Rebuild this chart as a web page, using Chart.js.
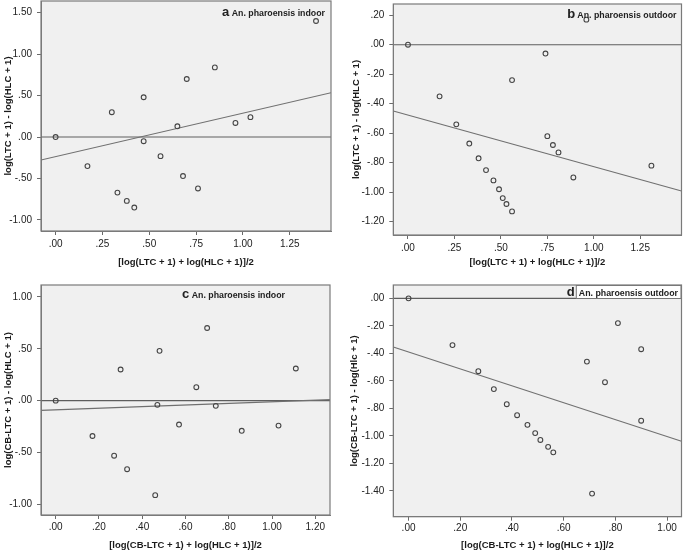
<!DOCTYPE html>
<html>
<head>
<meta charset="utf-8">
<script src="https://cdn.jsdelivr.net/npm/chart.js@4.4.1/dist/chart.umd.min.js"></script>
<style>
  html, body { margin: 0; padding: 0; background: #ffffff; }
  #wrap { position: relative; width: 685px; height: 551px; overflow: hidden; }
  canvas { position: absolute; }
</style>
</head>
<body>
<div id="wrap">
  <canvas id="cc" width="342" height="301" style="left:0px;top:250px;"></canvas>
  <canvas id="cd" width="343" height="301" style="left:342px;top:250px;"></canvas>
  <canvas id="ca" width="342" height="290" style="left:0px;top:-20px;"></canvas>
  <canvas id="cb" width="343" height="290" style="left:342px;top:-20px;"></canvas>
</div>
<script>
// ---------- DATA ----------
// Panel a: An. pharoensis indoor (LTC vs HLC)
const aMean = [0, 0.17, 0.30, 0.33, 0.38, 0.42, 0.47, 0.47, 0.56, 0.65, 0.70, 0.68, 0.76, 0.85, 0.96, 1.04, 1.39];
const aDiff = [0, -0.35, 0.30, -0.67, -0.77, -0.85, 0.48, -0.05, -0.23, 0.13, 0.70, -0.47, -0.62, 0.84, 0.17, 0.24, 1.40];
const aFitX = [-0.078, 1.47];
const aFitY = [-0.277, 0.534];

// Panel b: An. pharoensis outdoor (LTC vs HLC)
const bMean = [0, 0.17, 0.26, 0.33, 0.38, 0.42, 0.46, 0.49, 0.51, 0.53, 0.56, 0.56, 0.74, 0.75, 0.78, 0.81, 0.89, 0.96, 1.31];
const bDiff = [0, -0.35, -0.54, -0.67, -0.77, -0.85, -0.92, -0.98, -1.04, -1.08, -1.13, -0.24, -0.06, -0.62, -0.68, -0.73, -0.90, 0.17, -0.82];
const bFitX = [-0.079, 1.472];
const bFitY = [-0.449, -0.992];

// Panel c: An. pharoensis indoor (CB-LTC vs HLC)
const cMean = [0, 0.17, 0.27, 0.30, 0.33, 0.46, 0.48, 0.47, 0.57, 0.65, 0.70, 0.74, 0.86, 1.03, 1.11];
const cDiff = [0, -0.34, -0.53, 0.30, -0.66, -0.91, 0.48, -0.04, -0.23, 0.13, 0.70, -0.05, -0.29, -0.24, 0.31];
const cFitX = [-0.068, 1.268];
const cFitY = [-0.093, 0.010];

// Panel d: An. pharoensis outdoor (CB-LTC vs HLC)
const dMean = [0, 0.17, 0.27, 0.33, 0.38, 0.42, 0.46, 0.49, 0.51, 0.54, 0.56, 0.69, 0.71, 0.76, 0.81, 0.90, 0.90];
const dDiff = [0, -0.34, -0.53, -0.66, -0.77, -0.85, -0.92, -0.98, -1.03, -1.08, -1.12, -0.46, -1.42, -0.61, -0.18, -0.37, -0.89];
const dFitX = [-0.059, 1.056];
const dFitY = [-0.354, -1.04];

// Tick values
const xTicksAB = [0, 0.25, 0.5, 0.75, 1.0, 1.25];
const xTicksC = [0, 0.2, 0.4, 0.6, 0.8, 1.0, 1.2];
const xTicksD = [0, 0.2, 0.4, 0.6, 0.8, 1.0];
const yTicksA = [-1.0, -0.5, 0, 0.5, 1.0, 1.5];
const yTicksB = [-1.2, -1.0, -0.8, -0.6, -0.4, -0.2, 0, 0.2];
const yTicksC = [-1.0, -0.5, 0, 0.5, 1.0];
const yTicksD = [-1.4, -1.2, -1.0, -0.8, -0.6, -0.4, -0.2, 0];

// Axis titles and panel labels
const xTitleAB = '[log(LTC + 1) + log(HLC + 1)]/2';
const xTitleCD = '[log(CB-LTC + 1) + log(HLC + 1)]/2';
const yTitleAB = 'log(LTC + 1) - log(HLC + 1)';
const yTitleC = 'log(CB-LTC + 1) - log(HLC + 1)';
const yTitleD = 'log(CB-LTC + 1) - log(Hlc + 1)';

// ---------- RENDERING ----------
const FONT = '"Liberation Sans", Arial, sans-serif';
const fmt = v => {
  let s = Number(v).toFixed(2);
  s = s.replace(/^(-?)0\./, '$1.');
  return s;
};

const panelPlugin = {
  id: 'panelDecor',
  beforeDraw(chart) {
    const { ctx, chartArea: a } = chart;
    ctx.save();
    ctx.fillStyle = '#f0f0f0';
    ctx.fillRect(a.left, a.top, a.right - a.left, a.bottom - a.top);
    ctx.restore();
  },
  afterDraw(chart) {
    const { ctx, chartArea: a } = chart;
    const o = chart.options.plugins.panelDecor;
    ctx.save();
    ctx.textBaseline = 'alphabetic';
    ctx.font = 'bold 8.8px ' + FONT;
    const tw = ctx.measureText(o.text).width;
    const tx = a.right - o.rightGap - tw;
    const ty = a.top + o.baseOff;
    if (o.box) {
      ctx.fillStyle = '#ffffff';
      ctx.fillRect(tx - 3, a.top, a.right - (tx - 3), o.boxH);
      ctx.strokeStyle = '#777777';
      ctx.lineWidth = 1;
      ctx.strokeRect(tx - 3 + 0.5, a.top + 0.5, a.right - (tx - 3) - 1, o.boxH);
    }
    ctx.fillStyle = '#222222';
    ctx.textAlign = 'left';
    ctx.fillText(o.text, tx, ty);
    ctx.font = 'bold 13px ' + FONT;
    ctx.textAlign = 'right';
    ctx.fillText(o.letter, tx - o.letterGap, ty);
    ctx.strokeStyle = '#7a7a7a';
    ctx.lineWidth = 1.2;
    ctx.strokeRect(a.left, a.top, a.right - a.left, a.bottom - a.top);
    ctx.restore();
  }
};

function makePanel(id, cfg) {
  const pts = cfg.xs.map((x, i) => ({ x: x, y: cfg.ys[i] }));
  const fit = cfg.fitX.map((x, i) => ({ x: x, y: cfg.fitY[i] }));
  const zero = [{ x: cfg.xRange[0], y: 0 }, { x: cfg.xRange[1], y: 0 }];
  new Chart(document.getElementById(id), {
    type: 'scatter',
    data: {
      datasets: [
        { type: 'line', data: zero, borderColor: '#5e5e5e', borderWidth: 1.1, pointRadius: 0, fill: false, order: 3 },
        { type: 'line', data: fit, borderColor: '#707070', borderWidth: 1.1, pointRadius: 0, fill: false, order: 2 },
        { type: 'scatter', data: pts, pointRadius: 2.4, pointBorderWidth: 1.1, borderColor: '#454545', backgroundColor: 'rgba(0,0,0,0)', pointHoverRadius: 2.4, order: 1 }
      ]
    },
    options: {
      responsive: false,
      animation: false,
      devicePixelRatio: 1,
      layout: { padding: cfg.pad },
      plugins: {
        legend: { display: false },
        tooltip: { enabled: false },
        panelDecor: cfg.decor
      },
      scales: {
        x: {
          type: 'linear',
          min: cfg.xRange[0], max: cfg.xRange[1],
          afterBuildTicks: s => { s.ticks = cfg.xTicks.map(v => ({ value: v })); },
          afterFit: s => { s.height = cfg.xH; },
          ticks: { callback: v => fmt(v), padding: cfg.xTickPad, maxRotation: 0, autoSkip: false, color: '#222222', font: { family: FONT, size: 10 } },
          grid: { drawOnChartArea: false, drawTicks: true, tickLength: 4, color: '#6a6a6a' },
          border: { display: true, color: '#7a7a7a' },
          title: { display: true, text: cfg.xTitle, color: '#1a1a1a', font: { family: FONT, size: 9.5, weight: 'bold' }, padding: { top: 0, bottom: cfg.xTitlePad } }
        },
        y: {
          type: 'linear',
          min: cfg.yRange[0], max: cfg.yRange[1],
          afterBuildTicks: s => { s.ticks = cfg.yTicks.map(v => ({ value: v })); },
          afterFit: s => { s.width = cfg.yW; },
          ticks: { callback: v => fmt(v), padding: 5, autoSkip: false, color: '#222222', font: { family: FONT, size: 10 } },
          grid: { drawOnChartArea: false, drawTicks: true, tickLength: 4, color: '#6a6a6a' },
          border: { display: true, color: '#7a7a7a' },
          title: { display: true, text: cfg.yTitle, color: '#1a1a1a', font: { family: FONT, size: 9.5, weight: 'bold' }, padding: { top: cfg.yTitlePad, bottom: 0 } }
        }
      }
    },
    plugins: [panelPlugin]
  });
}

makePanel('ca', {
  xs: aMean, ys: aDiff, fitX: aFitX, fitY: aFitY,
  xRange: [-0.078, 1.47], yRange: [-1.133, 1.641],
  xTicks: xTicksAB, yTicks: yTicksA,
  pad: { top: 21, right: 11, bottom: 0, left: 0 },
  yW: 41, xH: 39, xTickPad: 3, xTitlePad: 2.3, yTitlePad: 2.8,
  xTitle: xTitleAB, yTitle: yTitleAB,
  decor: { letter: 'a', text: 'An. pharoensis indoor', rightGap: 6, baseOff: 15, letterGap: 2.5, box: false }
});
makePanel('cb', {
  xs: bMean, ys: bDiff, fitX: bFitX, fitY: bFitY,
  xRange: [-0.079, 1.472], yRange: [-1.29, 0.276],
  xTicks: xTicksAB, yTicks: yTicksB,
  pad: { top: 24, right: 1.7, bottom: 0, left: 0 },
  yW: 51.3, xH: 35, xTickPad: 3.3, xTitlePad: 2.3, yTitlePad: 8.3,
  xTitle: xTitleAB, yTitle: yTitleAB,
  decor: { letter: 'b', text: 'An. pharoensis outdoor', rightGap: 5, baseOff: 14, letterGap: 2, box: false }
});
makePanel('cc', {
  xs: cMean, ys: cDiff, fitX: cFitX, fitY: cFitY,
  xRange: [-0.068, 1.268], yRange: [-1.101, 1.114],
  xTicks: xTicksC, yTicks: yTicksC,
  pad: { top: 35, right: 12, bottom: 0, left: 0 },
  yW: 41, xH: 36, xTickPad: 2.7, xTitlePad: 0.3, yTitlePad: 2.8,
  xTitle: xTitleCD, yTitle: yTitleC,
  decor: { letter: 'c', text: 'An. pharoensis indoor', rightGap: 45, baseOff: 13, letterGap: 2.5, box: false }
});
makePanel('cd', {
  xs: dMean, ys: dDiff, fitX: dFitX, fitY: dFitY,
  xRange: [-0.059, 1.056], yRange: [-1.588, 0.097],
  xTicks: xTicksD, yTicks: yTicksD,
  pad: { top: 35, right: 1.7, bottom: 0, left: 0 },
  yW: 51.3, xH: 34.3, xTickPad: 1.3, xTitlePad: 0.3, yTitlePad: 6.3,
  xTitle: xTitleCD, yTitle: yTitleD,
  decor: { letter: 'd', text: 'An. pharoensis outdoor', rightGap: 3.5, baseOff: 11, letterGap: 4, box: true, boxH: 13 }
});
</script>
</body>
</html>
